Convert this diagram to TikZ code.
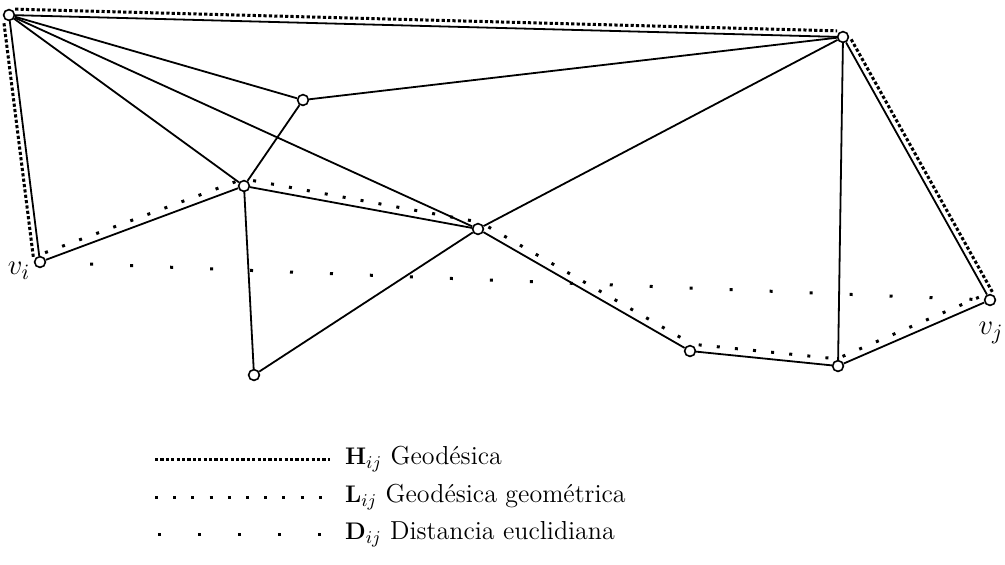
\documentclass[tikz,border=0pt]{standalone}
\usepackage{tikz}
\usetikzlibrary{calc,positioning}

\begin{document}
\begin{tikzpicture}[
    x=0.5pt, y=-0.5pt,
    vtx/.style={draw, circle, fill=white, inner sep=0pt, minimum size=5.4pt, line width=0.8pt},
    edge/.style={line width=0.9pt},
    hline/.style={line width=1.5pt, dash pattern=on 1.6pt off 1.1pt},
    lline/.style={line width=1.5pt, dash pattern=on 1.5pt off 7.6pt},
    dline/.style={line width=1.5pt, dash pattern=on 1.5pt off 18.5pt},
    lab/.style={font=\fontsize{13}{15}\selectfont},
    vlab/.style={font=\fontsize{15}{17}\selectfont}
]
    \useasboundingbox (0,0) rectangle (1005,564);

    % vertices
    \node[vtx] (a) at (9,15) {};
    \node[vtx] (b) at (843,37) {};
    \node[vtx] (c) at (303,100) {};
    \node[vtx] (d) at (244,186) {};
    \node[vtx] (e) at (478,229) {};
    \node[vtx] (vi) at (40,262) {};
    \node[vtx] (vj) at (990,300) {};
    \node[vtx] (f) at (254,375) {};
    \node[vtx] (g) at (690,351) {};
    \node[vtx] (h) at (838,366) {};

    \node[vlab] (lvi) at (19,271) {$v_i$};
    \node[vlab] (lvj) at (991,333) {$v_j$};

    % edges of the mesh
    \foreach \p/\q in {a/vi, a/b, a/c, a/d, a/e, c/d, c/b, d/vi, d/e, d/f,
                       e/f, e/b, e/g, g/h, h/vj, b/h, b/vj}
        \draw[edge] (\p) -- (\q);

    % geodesic H
    \foreach \p/\q in {vi/a, a/b, b/vj}
        \draw[hline, shorten <=3pt, shorten >=3pt]
            ($(\p)!3pt!90:(\q)$) -- ($(\q)!3pt!-90:(\p)$);

    % geometric geodesic L
    \foreach \p/\q in {vi/d, d/e, e/g, g/h, h/vj}
        \draw[lline, shorten <=4pt, shorten >=3pt]
            ($(\p)!3.5pt!90:(\q)$) -- ($(\q)!3.5pt!-90:(\p)$);

    % euclidean distance D
    \draw[dline, shorten <=22pt] (vi) -- (vj);

    % legend
    \coordinate (h1) at (155,459);
    \coordinate (h2) at (330,459);
    \coordinate (l1) at (155,497);
    \coordinate (l2) at (330,497);
    \coordinate (d1) at (158,534);
    \coordinate (d2) at (330,534);
    \draw[hline] (h1) -- (h2);
    \draw[lline] (l1) -- (l2);
    \draw[dline] (d1) -- (d2);
    \node[lab, anchor=west] (th) at (338,459) {$\mathbf{H}_{ij}$ Geodésica};
    \node[lab, anchor=west] (tl) at (338,497) {$\mathbf{L}_{ij}$ Geodésica geométrica};
    \node[lab, anchor=west] (td) at (338,534) {$\mathbf{D}_{ij}$ Distancia euclidiana};
\end{tikzpicture}
\end{document}
